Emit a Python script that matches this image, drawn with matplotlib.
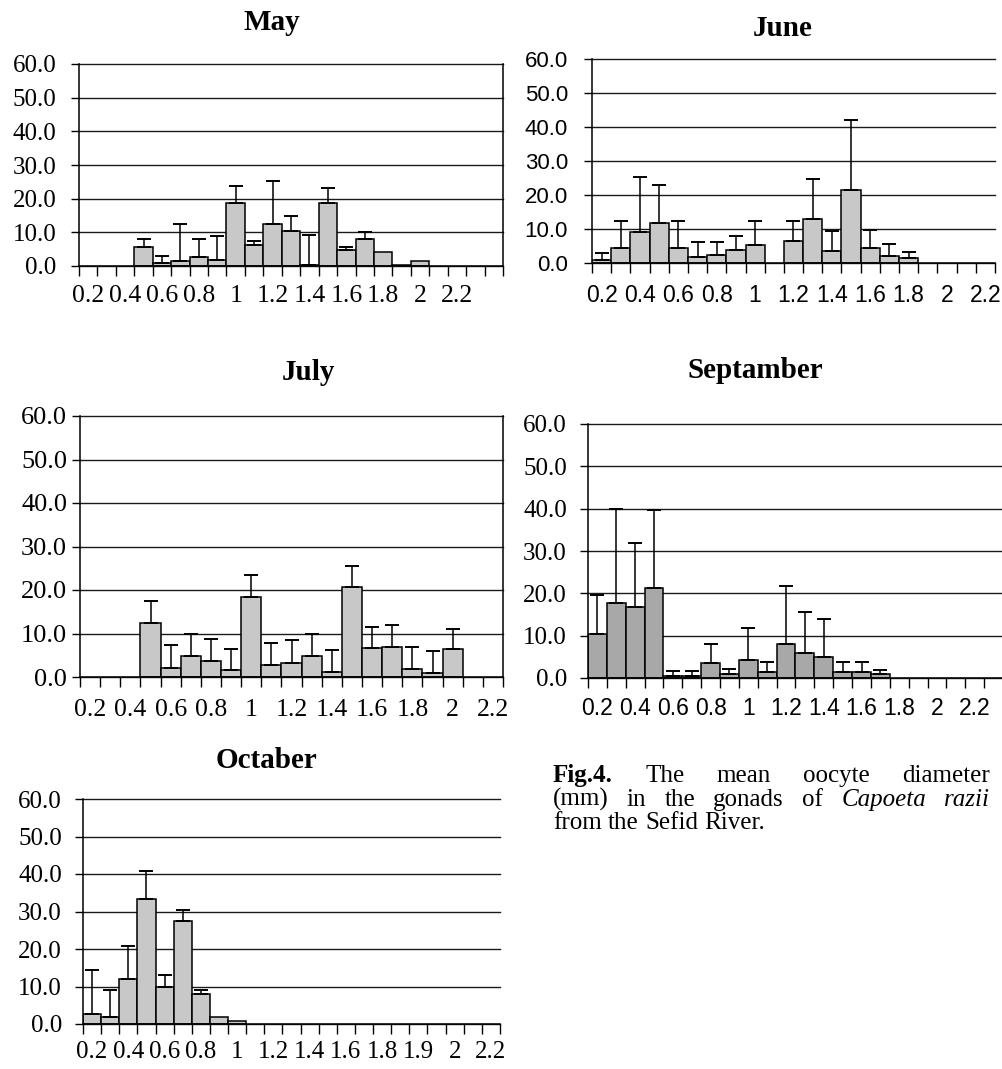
import matplotlib
matplotlib.use("Agg")
import matplotlib.pyplot as plt
import numpy as np

nan = np.nan

# y axis (same for all panels)
y_ticks = [0, 10, 20, 30, 40, 50, 60]

# May - 23 size classes, label on every second class
may_labels = ["0.2", "0.4", "0.6", "0.8", "1", "1.2", "1.4", "1.6", "1.8", "2", "2.2"]
may_mean = [nan, nan, nan, 5.7, 0.8, 1.5, 2.7, 1.9, 18.8, 6.1, 12.6, 10.5, 0.3, 18.8,
            4.8, 8.1, 4.2, 0.2, 1.4, nan, nan, nan, nan]
may_sd = [0, 0, 0, 2.2, 2.2, 11.1, 5.4, 6.9, 4.9, 1.2, 12.7, 4.3, 8.9, 4.5,
          0.9, 1.9, 0, 0, 0, 0, 0, 0, 0]

# June - 21 classes
june_labels = ["0.2", "0.4", "0.6", "0.8", "1", "1.2", "1.4", "1.6", "1.8", "2", "2.2"]
june_mean = [1.0, 4.4, 9.0, 11.8, 4.4, 1.8, 2.5, 3.7, 5.4, nan, 6.5, 12.9, 3.4, 21.6,
             4.4, 2.0, 1.4, nan, nan, nan, nan]
june_sd = [1.9, 8.1, 16.2, 11.2, 8.1, 4.3, 3.6, 4.2, 7.1, 0, 6.0, 11.9, 6.1, 20.6,
           5.4, 3.5, 1.9, 0, 0, 0, 0]

# July - 21 classes
july_labels = ["0.2", "0.4", "0.6", "0.8", "1", "1.2", "1.4", "1.6", "1.8", "2", "2.2"]
july_mean = [nan, nan, nan, 12.3, 2.1, 4.8, 3.6, 1.5, 18.4, 2.7, 3.3, 4.8, 1.2, 20.7,
             6.7, 6.9, 1.8, 0.9, 6.4, nan, nan]
july_sd = [0, 0, 0, 5.1, 5.2, 5.0, 5.1, 5.0, 5.0, 5.1, 5.1, 5.0, 5.1, 4.9,
           4.8, 5.1, 5.1, 5.1, 4.7, 0, 0]

# Septamber - 22 classes
sep_labels = ["0.2", "0.4", "0.6", "0.8", "1", "1.2", "1.4", "1.6", "1.8", "2", "2.2"]
sep_mean = [10.5, 17.8, 16.7, 21.3, 0.5, 0.5, 3.6, 0.9, 4.3, 1.4, 8.0, 5.8, 5.0, 1.4,
            1.4, 0.9, nan, nan, nan, nan, nan, nan]
sep_sd = [9.2, 22.1, 15.3, 18.4, 1.2, 1.2, 4.4, 1.2, 7.6, 2.3, 13.7, 9.8, 8.9, 2.3,
          2.3, 1.1, 0, 0, 0, 0, 0, 0]

# Octaber - 23 classes
oct_labels = ["0.2", "0.4", "0.6", "0.8", "1", "1.2", "1.4", "1.6", "1.8", "1.9", "2", "2.2"]
oct_mean = [2.8, 1.8, 12.0, 33.4, 10.0, 27.4, 7.9, 1.9, 0.8, nan, nan, nan, nan, nan,
            nan, nan, nan, nan, nan, nan, nan, nan, nan]
oct_sd = [11.7, 7.2, 8.7, 7.4, 3.1, 3.1, 1.3, 0, 0, 0, 0, 0, 0, 0,
          0, 0, 0, 0, 0, 0, 0, 0, 0]

SERIF = ["Liberation Serif", "DejaVu Serif"]
SANS = ["Liberation Sans", "DejaVu Sans"]

W, H = 1003, 1069
fig = plt.figure(figsize=(W / 100, H / 100), dpi=100)


def box(l, r, t, b):
    # pixel box -> figure fraction
    return [l / W, 1 - b / H, (r - l) / W, (b - t) / H]


def panel(rect, title, title_xy, mean, sd, labels, color, xfam, yfam,
          xsize, ysize, xpad, ypad, right_spine, xmax=None):
    ax = fig.add_axes(rect)
    n = len(mean)
    x = np.arange(n)
    mean = np.array(mean, float)
    sd = np.array(sd, float)
    has = ~np.isnan(mean)
    ax.bar(x[has], mean[has], width=1.0, color=color, edgecolor="black",
           linewidth=1.1, zorder=3)
    e = has & (sd > 0)
    ax.errorbar(x[e], mean[e], yerr=[np.zeros(e.sum()), sd[e]], fmt="none",
                ecolor="black", elinewidth=1.1, capsize=5, capthick=1.4, zorder=4)

    ax.set_ylim(0, 60)
    ax.set_xlim(-0.5, n - 0.5 if xmax is None else xmax)

    ax.set_yticks(y_ticks)
    ax.set_yticklabels(["%.1f" % v for v in y_ticks], family=yfam, fontsize=ysize)
    ax.tick_params(axis="y", length=5.8, width=1.0, pad=ypad, color="black")
    ax.yaxis.grid(True, color="#1a1a1a", linewidth=1.0)
    for gl in ax.yaxis.get_gridlines():
        gl.set_clip_on(False)

    # tick marks on class boundaries, labels on every second class
    ax.set_xticks(np.arange(n + 1) - 0.5)
    ax.set_xticklabels([])
    ax.tick_params(axis="x", which="major", length=7, width=1.0, direction="out")
    ax.set_xticks(np.arange(len(labels)) * 2, minor=True)
    ax.set_xticklabels(labels, minor=True, family=xfam, fontsize=xsize)
    ax.tick_params(axis="x", which="minor", length=0, pad=xpad)

    ax.spines["top"].set_visible(False)
    ax.spines["right"].set_visible(right_spine)
    for s in ["left", "bottom", "right"]:
        ax.spines[s].set_linewidth(1.1)
        ax.spines[s].set_color("black")
        ax.spines[s].set_zorder(5)

    fig.text(title_xy[0] / W, 1 - title_xy[1] / H, title, ha="center", va="center",
             family=SERIF, weight="bold", fontsize=21)
    return ax


panel(box(79, 503, 64, 266), "May", (272, 23), may_mean, may_sd, may_labels,
      "#c8c8c8", SERIF, SERIF, 18.5, 18, 14, 10.5, True)
panel(box(592, 995, 59, 263), "June", (783, 28), june_mean, june_sd, june_labels,
      "#c8c8c8", SANS, SANS, 16.5, 16, 15, 11.5, False)
panel(box(80, 503, 416, 677), "July", (308, 373), july_mean, july_sd, july_labels,
      "#c8c8c8", SERIF, SERIF, 18.5, 19, 16, 3.5, True)
panel(box(588, 1003, 424, 678), "Septamber", (755, 370), sep_mean, sep_sd, sep_labels,
      "#a8a8a8", SANS, SERIF, 16.5, 18, 14, 9.4, False, xmax=21.1)
panel(box(83, 500, 799, 1024), "Octaber", (267, 760), oct_mean, oct_sd, oct_labels,
      "#c8c8c8", SERIF, SERIF, 18, 18, 12, 9.4, False)

# caption, justified like the original
cap_lines = [
    [("Fig.4.", "bold", "normal"), ("The", "normal", "normal"), ("mean", "normal", "normal"),
     ("oocyte", "normal", "normal"), ("diameter", "normal", "normal")],
    [("(mm)", "normal", "normal"), ("in", "normal", "normal"), ("the", "normal", "normal"),
     ("gonads", "normal", "normal"), ("of", "normal", "normal"),
     ("Capoeta", "normal", "italic"), ("razii", "normal", "italic")],
    [("from", "normal", "normal"), ("the", "normal", "normal"), ("Sefid", "normal", "normal"),
     ("River.", "normal", "normal")],
]
cap_base = [782, 806, 829]
cap_just = [True, True, False]
x0, x1 = 553, 990
csize = 18

r = fig.canvas.get_renderer()
for words, base, just in zip(cap_lines, cap_base, cap_just):
    ts = []
    for w, wt, st in words:
        ts.append(fig.text(0, 1 - base / H, w, fontsize=csize, family=SERIF,
                           weight=wt, style=st, va="baseline", ha="left"))
    widths = [t.get_window_extent(r).width for t in ts]
    if just:
        gap = (x1 - x0 - sum(widths)) / (len(ts) - 1)
    else:
        gap = 0.25 * csize * 100 / 72
    x = x0
    for t, w in zip(ts, widths):
        t.set_x(x / W)
        x += w + gap

fig.savefig("out.png", dpi=100)
